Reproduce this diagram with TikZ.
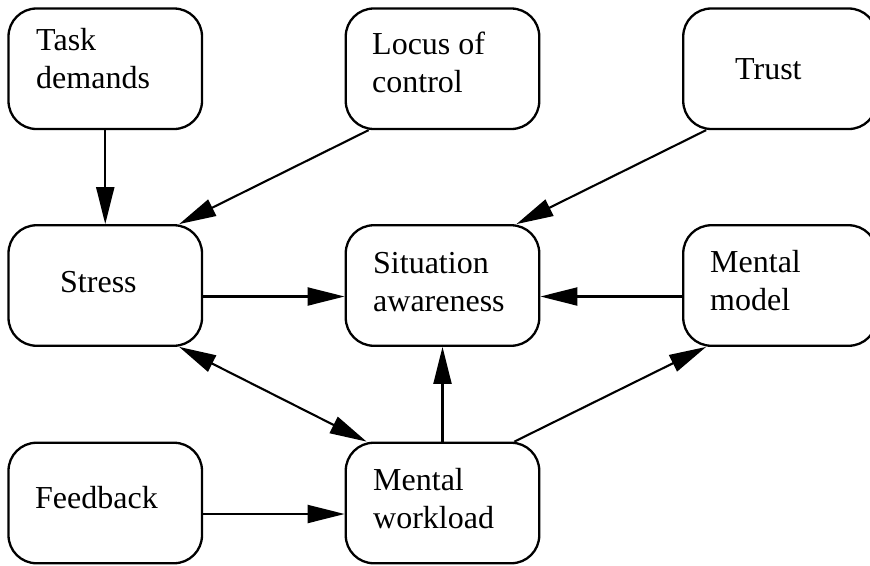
\documentclass[tikz,border=0pt]{standalone}
\usepackage{fontspec}
\setmainfont{Liberation Serif}
\usetikzlibrary{arrows.meta}
\begin{document}
\begin{tikzpicture}[x=1pt,y=-1pt,
  box/.style={draw,line width=2.3pt,rounded corners=28pt,minimum width=193.5pt,minimum height=120.5pt,inner sep=0pt},
  lbl/.style={anchor=base west,align=left,inner sep=0pt,font=\fontsize{32}{37.5}\selectfont},
  conn/.style={line width=2.1pt,-{Triangle[length=37pt,width=18pt]}},
  conn2/.style={line width=2.1pt,{Triangle[length=37pt,width=18pt]}-{Triangle[length=37pt,width=18pt]}}]
\clip (0,0) rectangle (870,565);
% boxes
\node[box] (task)   at (105.25,68.75) {};
\node[box] (locus)  at (442.5,68.75) {};
\node[box] (trust)  at (780,68.75) {};
\node[box] (stress) at (105.25,285.5) {};
\node[box] (sa)     at (442.5,285.5) {};
\node[box] (mm)     at (780,285.5) {};
\node[box] (fb)     at (105.25,503) {};
\node[box] (mw)     at (442.5,503) {};
% labels (base = baseline of last line)
\node[lbl] (ttask)   at (36,88)   {Task\\demands};
\node[lbl] (tlocus)  at (372,92)  {Locus of\\control};
\node[lbl] (ttrust)  at (735,79)  {Trust};
\node[lbl] (tstress) at (60,292)  {Stress};
\node[lbl] (tsa)     at (373,311) {Situation\\awareness};
\node[lbl] (tmm)     at (710,310) {Mental\\model};
\node[lbl] (tfb)     at (35,508)  {Feedback};
\node[lbl] (tmw)     at (373,528) {Mental\\workload};
% connectors
\draw[conn] (task.south) -- (stress.north);
\draw[conn] ([xshift=24pt]locus.south west) -- ([xshift=-24pt]stress.north east);
\draw[conn] ([xshift=24pt]trust.south west) -- ([xshift=-24pt]sa.north east);
\draw[conn] ([yshift=-11pt]stress.east) -- ([yshift=-11pt]sa.west);
\draw[conn] ([yshift=-11pt]mm.west) -- ([yshift=-11pt]sa.east);
\draw[conn2] ([xshift=-24pt]stress.south east) -- ([xshift=22pt]mw.north west);
\draw[conn] (mw.north) -- (sa.south);
\draw[conn] ([xshift=-26pt]mw.north east) -- ([xshift=24pt]mm.south west);
\draw[conn] ([yshift=-11pt]fb.east) -- ([yshift=-11pt]mw.west);
\end{tikzpicture}
\end{document}
